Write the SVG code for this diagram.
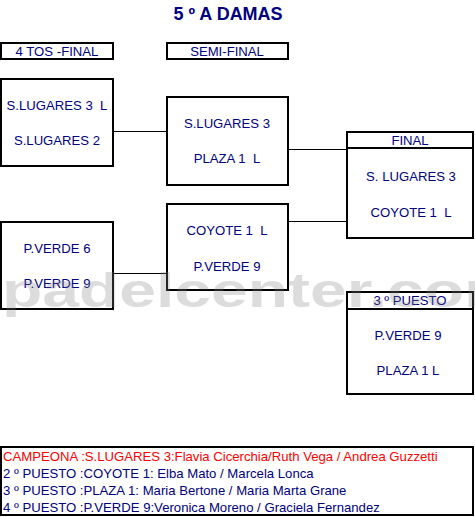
<svg xmlns="http://www.w3.org/2000/svg" width="475" height="517" viewBox="0 0 475 517">
<style>
.box{fill:none;stroke:#000;stroke-width:2}
.con{stroke:#000;stroke-width:1;fill:none}
.t{font-family:"Liberation Sans",Arial,sans-serif;font-size:13.15px;fill:#000080;text-anchor:middle;white-space:pre}
.l{font-family:"Liberation Sans",Arial,sans-serif;font-size:13.15px;fill:#000080}
.red{fill:#ff0000}
.title{font-family:"Liberation Sans",Arial,sans-serif;font-size:18px;font-weight:bold;fill:#000080;text-anchor:middle}
.wm{font-family:"Liberation Sans",Arial,sans-serif;font-size:48px;font-weight:bold;fill:#808080;fill-opacity:0.28}
</style>
<rect width="475" height="517" fill="#fff"/>
<text class="title" x="228" y="20">5 º A DAMAS</text>
<g id="hdr-qf"><rect class="box" x="1" y="43" width="112" height="16"/><text class="t" x="57" y="56">4 TOS -FINAL</text></g>
<g id="hdr-sf"><rect class="box" x="167" y="43" width="121" height="16"/><text class="t" x="227" y="56">SEMI-FINAL</text></g>
<g id="connectors">
<line class="con" x1="113" y1="131.5" x2="167" y2="131.5"/>
<line class="con" x1="113" y1="273.5" x2="167" y2="273.5"/>
<line class="con" x1="288" y1="149.5" x2="347" y2="149.5"/>
<line class="con" x1="288" y1="221.5" x2="347" y2="221.5"/>
</g>
<g id="qf1"><rect class="box" x="1" y="79" width="112" height="87"/><text class="t" x="57" y="110" xml:space="preserve">S.LUGARES 3  L</text><text class="t" x="57" y="145">S.LUGARES 2</text></g>
<g id="qf2"><rect class="box" x="1" y="222" width="112" height="87"/><text class="t" x="57" y="253">P.VERDE 6</text><text class="t" x="57" y="288">P.VERDE 9</text></g>
<g id="sf1"><rect class="box" x="167" y="97" width="121" height="88"/><text class="t" x="227" y="128">S.LUGARES 3</text><text class="t" x="227" y="163" xml:space="preserve">PLAZA 1  L</text></g>
<g id="sf2"><rect class="box" x="167" y="204" width="121" height="86"/><text class="t" x="227" y="235" xml:space="preserve">COYOTE 1  L</text><text class="t" x="227" y="271">P.VERDE 9</text></g>
<g id="final"><rect class="box" x="347" y="132" width="126" height="106"/><line class="box" x1="347" y1="148" x2="473" y2="148"/><text class="t" x="410" y="145">FINAL</text><text class="t" x="411" y="181">S. LUGARES 3</text><text class="t" x="411" y="217" xml:space="preserve">COYOTE 1  L</text></g>
<g id="third"><rect class="box" x="347" y="292" width="126" height="102"/><line class="box" x1="347" y1="309" x2="473" y2="309"/><text class="t" x="410" y="305">3 º PUESTO</text><text class="t" x="408" y="340">P.VERDE 9</text><text class="t" x="408" y="375">PLAZA 1 L</text></g>
<g id="results"><rect class="box" x="1" y="447" width="472" height="68"/>
<text class="l red" x="3" y="461">CAMPEONA :S.LUGARES 3:Flavia Cicerchia/Ruth Vega / Andrea Guzzetti</text>
<text class="l" x="3" y="478">2 º PUESTO :COYOTE 1: Elba Mato / Marcela Lonca</text>
<text class="l" x="3" y="495">3 º PUESTO :PLAZA 1: Maria Bertone / Maria Marta Grane</text>
<text class="l" x="3" y="512">4 º PUESTO :P.VERDE 9:Veronica Moreno / Graciela Fernandez</text>
</g>
<text class="wm" transform="translate(2,307) scale(1.375,1)" x="0" y="0">padelcenter.com</text>
</svg>
